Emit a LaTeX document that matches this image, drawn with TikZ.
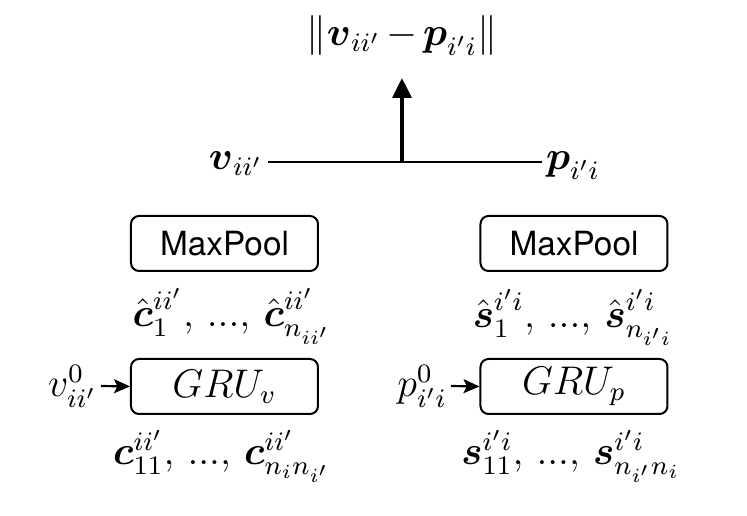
\documentclass[tikz,border=0pt]{standalone}
\usepackage{amsmath}
\usepackage{fontspec}
\newfontfamily\hv{TeX Gyre Heros}
\usetikzlibrary{arrows.meta}
\newcommand{\bv}[1]{\boldsymbol{#1}}
\tikzset{
  box/.style={draw, line width=0.6pt, rounded corners=2.4pt, minimum width=56.1pt, minimum height=16.5pt, inner sep=0pt},
  lab/.style={inner sep=1pt, font=\large},
  thin arrow/.style={line width=0.65pt, -{Stealth[length=4.8pt,width=4.2pt,inset=1pt]}},
  big arrow/.style={line width=1.2pt, -{Triangle[length=6pt,width=5.6pt]}},
}
\begin{document}
\begin{tikzpicture}[x=0.3pt,y=-0.3pt]
\useasboundingbox (0,0) rectangle (747,516);
% top
\node[lab, anchor=base] (title) at (402,46) {$\|\bv{v}_{ii'}\mkern-1.5mu - \mkern-1.5mu\bv{p}_{i'i}\|$};
\node[lab, anchor=base] (vl) at (236,170) {$\bv{v}_{ii'}$};
\node[lab, anchor=base] (pl) at (573,170) {$\bv{p}_{i'i}$};
\coordinate (vle) at (268,162);
\coordinate (plw) at (542,162);
\coordinate (j) at (402,162);
\draw[line width=0.65pt] (vle) -- (plw);
\draw[big arrow] (j) -- (402,78) coordinate (tip);
% left column
\node[box, font=\hv] (mp1) at (224.5,243.5) {MaxPool};
\node[lab, anchor=base] (ch) at (232,327) {$\hat{\bv{c}}^{ii'}_{1}{,}\ ...{,}\ \hat{\bv{c}}^{ii'}_{n_{ii'}}$};
\node[box, font=\large] (gru1) at (224.5,386.5) {$GRU_v$};
\node[lab, anchor=east] (v0) at (101,386) {$v^{0}_{ii'}$};
\draw[thin arrow] (v0.east) -- (gru1.west);
\node[lab, anchor=base] (cc) at (222,465) {$\bv{c}^{ii'}_{11}{,}\ ...{,}\ \bv{c}^{ii'}_{n_i n_{i'}}$};
% right column
\node[box, font=\hv] (mp2) at (574,243.5) {MaxPool};
\node[lab, anchor=base] (sh) at (573,328) {$\hat{\bv{s}}^{i'i}_{1}{,}\ ...{,}\ \hat{\bv{s}}^{i'i}_{n_{i'i}}$};
\node[box, font=\large] (gru2) at (574,386.5) {$GRU_p$};
\node[lab, anchor=east] (p0) at (451,386) {$p^{0}_{i'i}$};
\draw[thin arrow] (p0.east) -- (gru2.west);
\node[lab, anchor=base] (ss) at (571,465) {$\bv{s}^{i'i}_{11}{,}\ ...{,}\ \bv{s}^{i'i}_{n_{i'} n_i}$};
\end{tikzpicture}
\end{document}
